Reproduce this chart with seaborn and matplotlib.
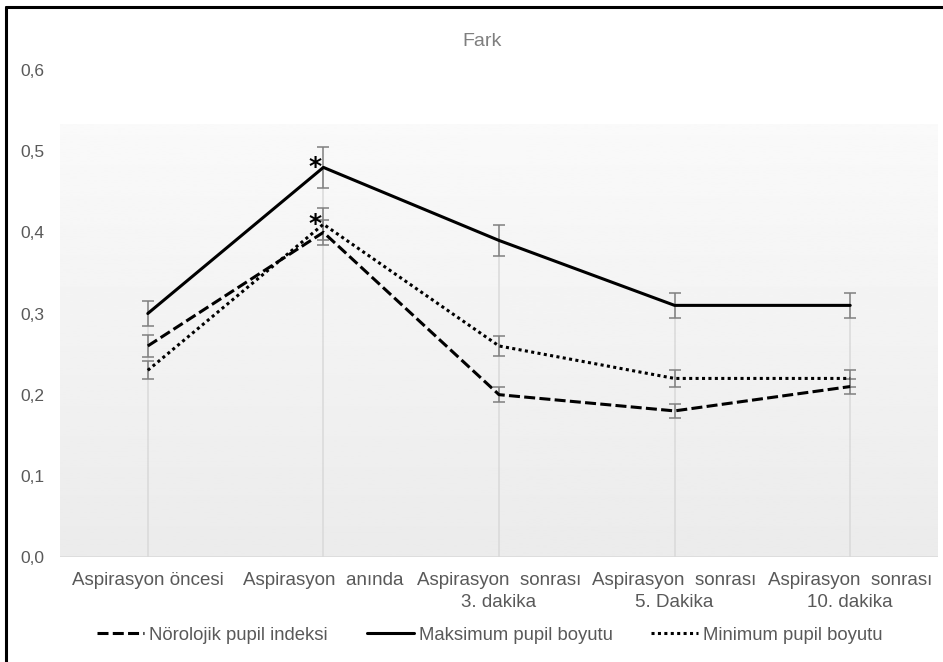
#!/usr/bin/env python3
"""Fark chart: pupil measurements around aspiration (line plot with error bars)."""

import numpy as np
import pandas as pd
import matplotlib
matplotlib.use("Agg")
import matplotlib.pyplot as plt
from matplotlib.lines import Line2D
import seaborn as sns

# --- data ---
categories = [
    "Aspirasyon öncesi",
    "Aspirasyon  anında",
    "Aspirasyon  sonrası\n3. dakika",
    "Aspirasyon  sonrası\n5. Dakika",
    "Aspirasyon  sonrası\n10. dakika",
]
series_names = ["Nörolojik pupil indeksi", "Maksimum pupil boyutu", "Minimum pupil boyutu"]
npi_values = [0.26, 0.40, 0.20, 0.18, 0.21]
max_values = [0.30, 0.48, 0.39, 0.31, 0.31]
min_values = [0.23, 0.41, 0.26, 0.22, 0.22]
npi_err = [0.013, 0.015, 0.009, 0.009, 0.009]
max_err = [0.015, 0.025, 0.019, 0.015, 0.015]
min_err = [0.011, 0.020, 0.012, 0.011, 0.010]
y_ticks = [0.0, 0.1, 0.2, 0.3, 0.4, 0.5, 0.6]
star_points = [(1, 0.48), (1, 0.41)]

sns.set_theme(style="white")
plt.rcParams["font.family"] = ["Liberation Sans", "DejaVu Sans"]

text_gray = "#595959"
line_gray = "#d9d9d9"

df = pd.DataFrame({
    "pos": list(range(len(categories))) * 3,
    "value": npi_values + max_values + min_values,
    "err": npi_err + max_err + min_err,
    "series": np.repeat(series_names, len(categories)),
})

fig = plt.figure(figsize=(9.43, 6.62), dpi=100)
ax = fig.add_axes([60 / 943, 1 - 557 / 662, 878 / 943, 487 / 662])

# plot-area gradient (white at top to light gray at bottom)
grad = np.linspace(0.978, 0.922, 256).reshape(-1, 1)
ax.imshow(grad, cmap="gray", vmin=0, vmax=1, aspect="auto",
          extent=[-0.5, 4.5, 0, 0.533], origin="upper", zorder=0)

# drop lines from the highest series
x = np.arange(len(categories))
ax.vlines(x, 0, max_values, color=line_gray, lw=1.1, zorder=1)
ax.axhline(0, color=line_gray, lw=1.1, zorder=1)

styles = {
    series_names[0]: (0, (3.6, 1.4)),
    series_names[1]: "-",
    series_names[2]: (0, (1.0, 1.1)),
}
for name in series_names:
    sub = df[df["series"] == name]
    ax.errorbar(sub["pos"], sub["value"], yerr=sub["err"], fmt="none",
                ecolor="#7f7f7f", elinewidth=1.1, capsize=4, capthick=1.1, zorder=2)
    sns.lineplot(data=sub, x="pos", y="value", ax=ax, color="black", lw=2.2,
                 linestyle=styles[name], label=name, zorder=3)

for sx, sy in star_points:
    ax.text(sx - 0.048, sy - 0.008, "*", ha="center", va="baseline",
            fontsize=18, fontweight="bold", color="black", family="DejaVu Sans", zorder=4)

ax.set_xlim(-0.5, 4.5)
ax.set_ylim(0, 0.6)
ax.set_xticks(x)
ax.set_xticklabels(categories, linespacing=1.35)
ax.set_yticks(y_ticks)
ax.set_yticklabels([f"{v:.1f}".replace(".", ",") for v in y_ticks])
ax.tick_params(axis="x", length=0, pad=11, labelsize=13.5, labelcolor=text_gray)
ax.tick_params(axis="y", length=0, pad=11, labelsize=12.5, labelcolor=text_gray)
ax.set_xlabel("")
ax.set_ylabel("")
for sp in ax.spines.values():
    sp.set_visible(False)
ax.grid(False)
ax.set_facecolor("none")

fig.text(482 / 943, 1 - 41 / 662, "Fark", ha="center", va="center",
         fontsize=14, color="#7f7f7f")

ax.legend(loc="center", bbox_to_anchor=(490 / 943, 1 - 635 / 662),
          bbox_transform=fig.transFigure, ncol=3, frameon=False,
          fontsize=13.3, labelcolor=text_gray, handlelength=2.55,
          handletextpad=0.27, columnspacing=2.1, borderpad=0, borderaxespad=0)

# frame lines of the screenshot (top and left only)
fig.add_artist(Line2D([6 / 943, 1], [1 - 7 / 662, 1 - 7 / 662],
                      transform=fig.transFigure, color="black", lw=2.2))
fig.add_artist(Line2D([6 / 943, 6 / 943], [0, 1 - 7 / 662],
                      transform=fig.transFigure, color="black", lw=2.2))

fig.savefig("out.png", dpi=100, facecolor="white")
